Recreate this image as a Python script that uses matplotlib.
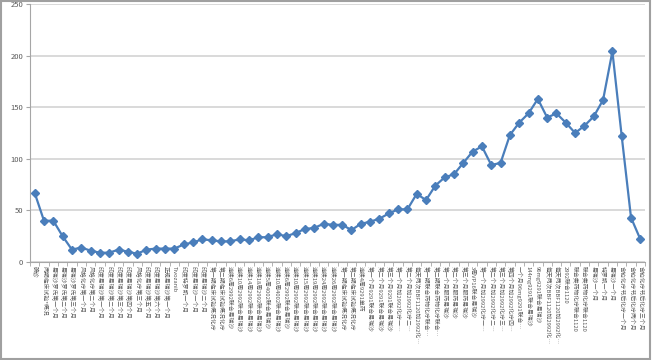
import matplotlib
matplotlib.use("Agg")
import matplotlib.pyplot as plt
from matplotlib.patches import Rectangle
from matplotlib.ticker import MultipleLocator, FixedLocator

plt.rcParams['font.family'] = ['Noto Sans CJK SC', 'DejaVu Sans']

# category labels (treatment stages) and measured values
labels = [
    "确诊", "两期临床试验*概况", "易瑞沙罗氏第一个月", "易瑞沙罗氏第二个月", "易瑞沙罗氏第三个月",
    "风格化疗第一个月", "风格化疗第二个月", "印度易瑞沙第一个月", "印度易瑞沙第二个月",
    "印度易瑞沙第三个月", "印度易瑞沙第四个月", "风格化疗第三个月", "印度易瑞沙第五个月",
    "印度易瑞沙第六个月", "正规易瑞沙第一个月", "Tivozanib", "印度特罗凯一个月",
    "印度易瑞沙一个月", "印度易瑞沙二个月", "第一期临床试验概况化疗", "第二期临床试验概况化疗",
    "连续6周2992联合易瑞沙", "连续10周2992联合易瑞沙", "连续14周2992联合易瑞沙",
    "连续18周2992联合易瑞沙", "连续5周4002联合易瑞沙", "连续10周4002联合易瑞沙",
    "连续6周2992联合易瑞沙", "连续10周2992联合易瑞沙", "连续15周2992联合易瑞沙",
    "连续19周2992联合易瑞沙", "连续24周2992联合易瑞沙", "连续26周2992联合易瑞沙",
    "第一期临床试验概况化疗", "第二期临床试验概况化疗", "连续4周9291单药",
    "第一个月9291联合易瑞沙", "第二个月9291联合易瑞沙", "第三个月9291联合易瑞沙",
    "第一个月加2992化疗一…", "第二个月加2992化疗二…", "每天两次BBF1120加2992化…",
    "第一期联合药物化疗联合…", "第二期联合药物化疗联合…", "第一个月服药易瑞沙",
    "第二个月服药易瑞沙", "第三个月服药易瑞沙", "3周VP16联合易瑞沙",
    "第一个月加2992化疗一…", "第二个月加2992化疗二…", "第三个月加2992化疗三…",
    "第四个月加2992化疗四…", "一个月96mg9291联合…", "144mg9291联合易瑞沙",
    "96mg9291联合易瑞沙", "每天两次BBF1120加2992化…", "每天两次BBF1120加2992化…",
    "2992联合1120", "联合类药物化疗联合1120", "联合类药物化疗联合1120",
    "易瑞沙一个月", "特罗凯一个月", "易瑞沙一个月",
    "含铂化疗节后化疗一个月", "含铂化疗节后化疗两个月", "含铂化疗节后化疗三个月",
]
values = [67, 40, 40, 25, 12, 14, 11, 9, 9, 12, 10, 8, 12, 13, 13, 13, 17, 19, 22, 21,
          20, 20, 22, 21, 24, 24, 27, 25, 28, 32, 33, 37, 36, 36, 31, 37, 39, 42, 47, 51,
          51, 66, 60, 74, 82, 85, 96, 107, 112, 94, 96, 123, 135, 144, 158, 140, 144, 135,
          125, 132, 141, 157, 204, 122, 43, 22]

line_color = '#4a7ebb'
grid_color = '#d9d9d9'
axis_color = '#a6a6a6'

fig = plt.figure(figsize=(6.52, 3.6), dpi=100)
ax = fig.add_axes([30 / 652, 1 - 262 / 360, 615 / 652, 258 / 360])

x = list(range(len(values)))
ax.plot(x, values, color=line_color, linewidth=1.6, marker='D', markersize=3.6,
        markerfacecolor=line_color, markeredgecolor=line_color, zorder=3)

ax.set_xlim(-0.5, len(values) - 0.5)
ax.set_ylim(0, 250)
ax.yaxis.set_major_locator(MultipleLocator(50))
ax.yaxis.grid(True, color=grid_color, linewidth=1.4)
ax.set_axisbelow(True)

for side in ['top', 'right']:
    ax.spines[side].set_visible(False)
ax.spines['left'].set_color(axis_color)
ax.spines['bottom'].set_color(axis_color)

ax.set_xticks(x)
ax.set_xticklabels(labels, rotation=-90, fontsize=4.2, color='#595959',
                   ha='center', va='top')
ax.tick_params(axis='x', which='major', length=0, pad=3)
ax.xaxis.set_minor_locator(FixedLocator([i - 0.5 for i in range(len(values) + 1)]))
ax.tick_params(axis='x', which='minor', length=3, color=axis_color)
ax.tick_params(axis='y', length=3, color=axis_color, labelsize=5.5, labelcolor='#595959', pad=2)

# grey frame around the chart
fig.add_artist(Rectangle((0.002, 0.004), 0.995, 0.992, transform=fig.transFigure,
                         fill=False, edgecolor='#a0a0a0', linewidth=1.5))

fig.savefig('out.png', dpi=100)
